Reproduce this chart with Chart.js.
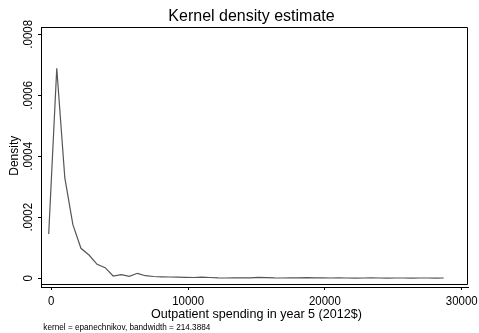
<!DOCTYPE html>
<html>
<head>
<meta charset="utf-8">
<script src="https://cdn.jsdelivr.net/npm/chart.js@4.4.1/dist/chart.umd.min.js"></script>
<style>
  html, body { margin: 0; padding: 0; background: #fff; }
  canvas { display: block; }
</style>
</head>
<body>
<canvas id="kdChart" width="479" height="333"></canvas>
<script>
// Kernel density estimate, outpatient spending year 5
const FONT = '"Liberation Sans", Arial, sans-serif';

// evaluation grid (50 points) and density values
const gridX = [
  -190, 399, 989, 1578, 2167, 2757, 3346, 3935, 4524, 5114,
  5703, 6292, 6882, 7471, 8060, 8650, 9239, 9828, 10417, 11007,
  11596, 12185, 12775, 13364, 13953, 14543, 15132, 15721, 16310, 16900,
  17489, 18078, 18668, 19257, 19846, 20436, 21025, 21614, 22203, 22793,
  23382, 23971, 24561, 25150, 25739, 26329, 26918, 27507, 28096, 28686
];
const density = [
  0.000145, 0.000689, 0.000329, 0.000176, 0.0000984, 0.0000764, 0.0000459, 0.0000348, 0.0000075, 0.0000118,
  0.0000066, 0.0000164, 0.0000085, 0.0000059, 0.0000049, 0.0000043, 0.0000036, 0.0000033, 0.0000026, 0.0000036,
  0.0000026, 0.0000013, 0.0000010, 0.0000013, 0.0000016, 0.0000016, 0.0000030, 0.0000023, 0.0000013, 0.0000010,
  0.0000013, 0.0000013, 0.0000023, 0.0000013, 0.0000011, 0.0000010, 0.0000012, 0.0000010, 0.0000009, 0.0000010,
  0.0000011, 0.0000010, 0.0000009, 0.0000010, 0.0000010, 0.0000009, 0.0000010, 0.0000010, 0.0000009, 0.0000010
];

const xTicks = [0, 10000, 20000, 30000];
const yTicks = [0, 0.0002, 0.0004, 0.0006, 0.0008];
const yTickLabels = ['0', '.0002', '.0004', '.0006', '.0008'];

const titleText = 'Kernel density estimate';
const xTitle = 'Outpatient spending in year 5 (2012$)';
const yTitle = 'Density';
const noteText = 'kernel = epanechnikov, bandwidth = 214.3884';

function squeezeText(ctx, text, x, y, ratio) {
  const w = ctx.measureText(text).width;
  ctx.fillText(text, x, y, w * ratio);
}

// Stata-like frame, rotated y labels and titles
const stataText = {
  id: 'stataText',
  afterDraw(chart) {
    const ctx = chart.ctx;
    const area = chart.chartArea;
    const xs = chart.scales.x;
    const ys = chart.scales.y;
    ctx.save();
    ctx.fillStyle = '#000';
    ctx.strokeStyle = '#000';
    ctx.lineWidth = 1;

    // plot region box (bottom sits a bit above the x axis line)
    ctx.beginPath();
    ctx.moveTo(area.left + 0.5, 284.5);
    ctx.lineTo(area.right - 0.5, 284.5);
    ctx.lineTo(area.right - 0.5, area.top + 0.5);
    ctx.lineTo(area.left + 0.5, area.top + 0.5);
    ctx.stroke();

    // title
    ctx.font = '16px ' + FONT;
    ctx.textAlign = 'center';
    ctx.textBaseline = 'alphabetic';
    ctx.fillText(titleText, 251.5, 20.7, 167);

    // x tick labels
    ctx.font = '13px ' + FONT;
    xTicks.forEach(v => {
      squeezeText(ctx, String(v), xs.getPixelForValue(v), 305.3, 0.88);
    });

    // x title
    ctx.font = '13px ' + FONT;
    ctx.fillText(xTitle, 256.4, 317.5, 211);

    // y tick labels, rotated
    ctx.font = '13px ' + FONT;
    yTicks.forEach((v, i) => {
      ctx.save();
      ctx.translate(31.7, ys.getPixelForValue(v));
      ctx.rotate(-Math.PI / 2);
      squeezeText(ctx, yTickLabels[i], 0, 0, 0.88);
      ctx.restore();
    });

    // y title
    ctx.font = '12px ' + FONT;
    ctx.save();
    ctx.translate(18, (area.top + 284.5) / 2);
    ctx.rotate(-Math.PI / 2);
    ctx.fillText(yTitle, 0, 0);
    ctx.restore();

    // note
    ctx.font = '9.5px ' + FONT;
    ctx.textAlign = 'left';
    ctx.fillText(noteText, 43.3, 330, 167);

    ctx.restore();
  }
};

const ctx = document.getElementById('kdChart').getContext('2d');
const chart = new Chart(ctx, {
  type: 'line',
  data: {
    datasets: [{
      data: gridX.map((x, i) => ({ x: x, y: density[i] })),
      borderColor: '#555555',
      borderWidth: 1.2,
      pointRadius: 0,
      tension: 0,
      fill: false
    }]
  },
  options: {
    responsive: false,
    devicePixelRatio: 1,
    animation: false,
    layout: { padding: { left: 0, top: 27, right: 11, bottom: 0 } },
    plugins: {
      legend: { display: false },
      tooltip: { enabled: false }
    },
    scales: {
      x: {
        type: 'linear',
        min: -753,
        max: 30460,
        afterBuildTicks: s => { s.ticks = xTicks.map(v => ({ value: v })); },
        afterFit: s => { s.height = 46; },
        ticks: { display: false },
        grid: { drawOnChartArea: false, drawTicks: true, tickLength: 3, color: '#000', lineWidth: 1 },
        border: { display: true, color: '#000', width: 1 }
      },
      y: {
        type: 'linear',
        min: -0.0000285,
        max: 0.000824,
        afterBuildTicks: s => { s.ticks = yTicks.map(v => ({ value: v })); },
        afterFit: s => { s.width = 41; },
        ticks: { display: false },
        grid: { drawOnChartArea: false, drawTicks: true, tickLength: 3, color: '#000', lineWidth: 1 },
        border: { display: true, color: '#000', width: 1 }
      }
    }
  },
  plugins: [stataText]
});
</script>
</body>
</html>
